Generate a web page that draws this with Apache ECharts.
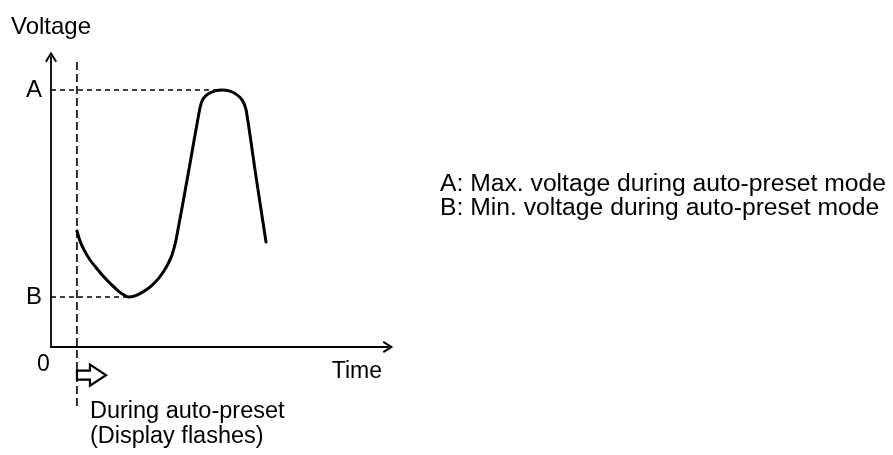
<!DOCTYPE html>
<html>
<head>
<meta charset="utf-8">
<script src="https://cdn.jsdelivr.net/npm/echarts@6/dist/echarts.min.js"></script>
<style>
  html, body { margin: 0; padding: 0; background: #fff; }
  #chart { width: 893px; height: 455px; }
</style>
</head>
<body>
<div id="chart"></div>
<script>
// Voltage trace during auto-preset (arbitrary units)
const times = [0.77, 0.86, 0.98, 1.16, 1.37, 1.60, 1.84, 2.02, 2.17, 2.29, 2.49, 2.73, 2.97, 3.18, 3.35, 3.50, 3.59, 3.71,
               4.07, 4.42, 4.51, 4.66, 4.87, 5.07, 5.28, 5.49, 5.67, 5.79, 6.08, 6.38];
const volts = [4.00, 3.66, 3.35, 3.00, 2.69, 2.38, 2.10, 1.91, 1.79, 1.72, 1.76, 1.90, 2.10, 2.35, 2.62, 2.93, 3.17, 3.69,
               5.97, 8.24, 8.55, 8.72, 8.83, 8.86, 8.83, 8.72, 8.52, 8.17, 5.90, 3.62];

// Level names shown on the voltage axis
const levelNames = ['A', 'B'];
const originLabel = '0';
const axisNames = { x: 'Time', y: 'Voltage' };
const legendLines = [
  'A: Max. voltage during auto-preset mode',
  'B: Min. voltage during auto-preset mode'
];
const flashNote = ['During auto-preset', '(Display flashes)'];

// Extent of the "auto-preset start" marker line and its arrow level
const markerTop = 9.83;
const markerBottom = -2.07;
const arrowLevel = -0.97;

const FONT = '"Liberation Sans", Arial, Helvetica, sans-serif';

// Derived levels: A = maximum, B = minimum of the trace
const vMax = Math.max(...volts);
const vMin = Math.min(...volts);
const tMax = times[volts.indexOf(vMax)];
const tMin = times[volts.indexOf(vMin)];
const flashStart = times[0];

const series = times.map((t, i) => [t, volts[i]]);

// open arrow head for the axis ends
const chevron = 'path://M0,11 L7,0 L14,11 L12,12.2 L7,4.2 L2,12.2 Z';

const chart = echarts.init(document.getElementById('chart'), null, { renderer: 'canvas' });

chart.setOption({
  animation: false,
  backgroundColor: '#fff',
  grid: { left: 51, top: 57, width: 337, height: 290, containLabel: false },
  xAxis: {
    type: 'value', min: 0, max: 10,
    name: axisNames.x, nameLocation: 'end', nameGap: -6,
    nameTextStyle: { color: '#000', fontSize: 23, fontFamily: FONT, align: 'right', verticalAlign: 'top', padding: [13, 0, 0, 0] },
    axisLine: { show: true, onZero: false, lineStyle: { color: '#000', width: 1.8 },
      symbol: ['none', chevron], symbolSize: [12, 11] },
    axisTick: { show: false },
    splitLine: { show: false },
    axisLabel: { customValues: [0], formatter: () => originLabel, color: '#000', fontSize: 23, fontFamily: FONT,
      margin: 6, padding: [0, 15, 0, 0] }
  },
  yAxis: {
    type: 'value', min: 0, max: 10,
    name: axisNames.y, nameLocation: 'end', nameGap: 18,
    nameTextStyle: { color: '#000', fontSize: 24, fontFamily: FONT },
    axisLine: { show: true, onZero: false, lineStyle: { color: '#000', width: 1.8 },
      symbol: ['none', chevron], symbolSize: [12, 11] },
    axisTick: { show: false },
    splitLine: { show: false },
    axisLabel: { customValues: [vMin, vMax], formatter: v => (v === vMax ? levelNames[0] : levelNames[1]),
      color: '#000', fontSize: 24, fontFamily: FONT, margin: 9 }
  },
  graphic: [{
    type: 'text', left: 440, top: 172,
    style: { text: legendLines.join('\n'), fill: '#000', font: '24.7px ' + FONT, lineHeight: 24 }
  }],
  series: [
    {
      type: 'line', data: series, smooth: 0.2, showSymbol: false, silent: true,
      lineStyle: { color: '#000', width: 3, join: 'round', cap: 'round' },
      markLine: {
        silent: true, symbol: ['none', 'none'], label: { show: false },
        lineStyle: { color: '#000', width: 1.6, type: [5, 4] },
        data: [
          [{ coord: [0, vMax] }, { coord: [tMax, vMax] }],
          [{ coord: [0, vMin] }, { coord: [tMin, vMin] }]
        ]
      }
    },
    {
      type: 'custom', clip: false, silent: true,
      data: [[flashStart, markerTop, markerBottom, arrowLevel]],
      renderItem(params, api) {
        const top = api.coord([api.value(0), api.value(1)]);
        const bot = api.coord([api.value(0), api.value(2)]);
        const arr = api.coord([api.value(0), api.value(3)]);
        const x = arr[0], y = arr[1];
        return {
          type: 'group',
          children: [
            { type: 'line', shape: { x1: top[0], y1: top[1], x2: bot[0], y2: bot[1] },
              style: { stroke: '#000', lineWidth: 1.6, lineDash: [8, 4] } },
            { type: 'polygon',
              shape: { points: [[x, y - 4.5], [x + 13, y - 4.5], [x + 13, y - 10.5], [x + 29, y],
                                [x + 13, y + 10.5], [x + 13, y + 4.5], [x, y + 4.5]] },
              style: { fill: '#fff', stroke: '#000', lineWidth: 2.2 } },
            { type: 'text', x: x + 13, y: y + 24,
              style: { text: flashNote.join('\n'), fill: '#000', font: '23.5px ' + FONT,
                       lineHeight: 25, verticalAlign: 'top', align: 'left' } }
          ]
        };
      }
    }
  ]
});
</script>
</body>
</html>
